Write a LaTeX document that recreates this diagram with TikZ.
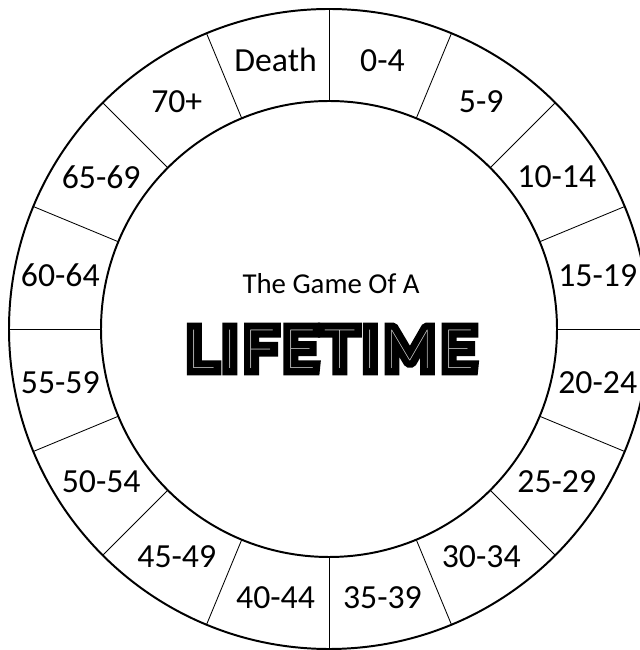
\documentclass[tikz,border=0pt]{standalone}
\usepackage{fontspec}
\setmainfont{Carlito}
\newfontfamily\lifefont[LetterSpace=15]{Lato Thin}
\newfontfamily\lifefontheavy[LetterSpace=15, FakeBold=26]{Lato Thin}

\tikzset{
  ring/.style={line width=1.4pt},
  divider/.style={line width=0.6pt},
  agelabel/.style={font=\fontsize{24}{28}\selectfont, inner sep=0pt},
  titletext/.style={font=\fontsize{39}{39}\selectfont, inner sep=0pt, miter limit=2}
}

\begin{document}
\begin{tikzpicture}

  \useasboundingbox (0,0) rectangle (16,16.25);

  % --------------------------------------------------------------------------
  % Wheel: two rings and sixteen sectors
  % --------------------------------------------------------------------------
  \begin{scope}[shift={(8.225,8.025)}]
    \draw[ring] (0,0) circle (8.0);
    \draw[ring] (0,0) circle (5.7);

    \foreach \a in {0,22.5,...,337.5}
      \draw[divider] (\a:5.7) -- (\a:8.0);

    \foreach \lab [count=\i] in {0-4,5-9,10-14,15-19,20-24,25-29,30-34,35-39,
                                 40-44,45-49,50-54,55-59,60-64,65-69,70+,Death}
      \node[agelabel] (age\i) at ({101.25-22.5*\i}:6.85) {\lab};

    % ------------------------------------------------------------------------
    % Title in the middle (heavy letters with a thin white inline)
    % ------------------------------------------------------------------------
    \node[font=\fontsize{20.5}{24}\selectfont, anchor=base, inner sep=0pt]
      (subtitle) at (0.05,0.875) {The Game Of A};

    \node[titletext] (titleback) at (0.05,-0.5) {\lifefontheavy LIFETIME};
    \node[titletext, text=white] (title) at (titleback) {\lifefont LIFETIME};
  \end{scope}

\end{tikzpicture}
\end{document}
